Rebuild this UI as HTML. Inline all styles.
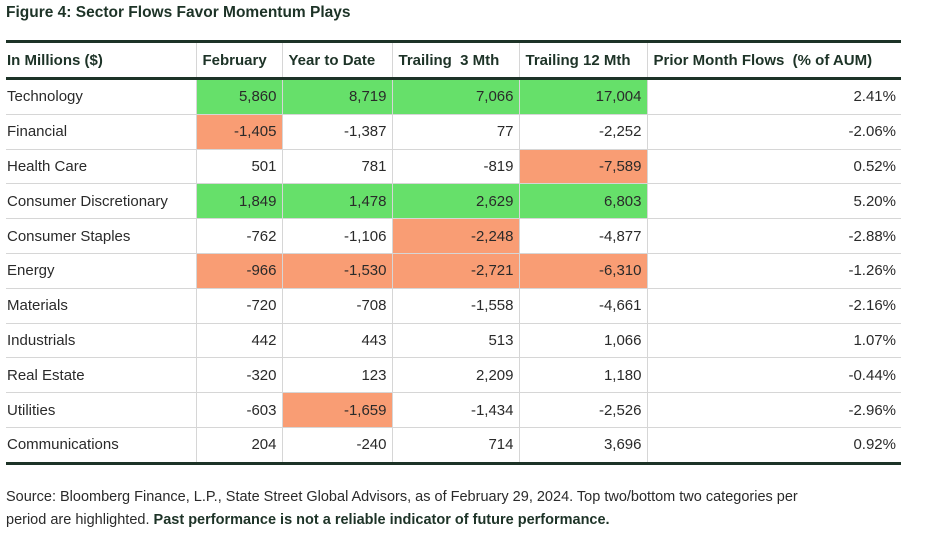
<!DOCTYPE html>
<html><head><style>
body{margin:0;width:937px;height:534px;background:#fff;font-family:"Liberation Sans",sans-serif;color:#2a2a2a;position:relative;overflow:hidden}
.t{position:absolute;left:6px;top:4px;font-weight:bold;font-size:15.5px;color:#1d3327}
table{position:absolute;left:6px;top:40px;width:895px;border-collapse:collapse;font-size:15px;table-layout:fixed}
table{border-top:3px solid #1d3327;border-bottom:3px solid #1d3327}
th{font-weight:bold;text-align:left;height:34px;padding:0 6px;color:#1d3327;border-bottom:3px solid #1d3327;border-left:1px solid #d6d6d6;white-space:nowrap;font-size:15px}
th:first-child,td:first-child{border-left:none;padding-left:1px}
td{height:33.8px;padding:0 5px;text-align:right;border-left:1px solid #d6d6d6;border-top:1px solid #d6d6d6;white-space:nowrap}
td:first-child{text-align:left}
tr:nth-child(2) td{border-top:none}
.g{background:#66e06a}.o{background:#f99d74}
.f{position:absolute;left:6px;top:486px;font-size:14.5px;line-height:23px;width:900px;color:#2a2a2a}
</style></head><body>
<div class="t">Figure 4: Sector Flows Favor Momentum Plays</div>
<table>
<colgroup><col style="width:190px"><col style="width:86px"><col style="width:110px"><col style="width:127px"><col style="width:128px"><col style="width:254px"></colgroup>
<tr><th>In Millions ($)</th><th>February</th><th>Year to Date</th><th>Trailing &nbsp;3 Mth</th><th>Trailing 12 Mth</th><th>Prior Month Flows &nbsp;(% of AUM)</th></tr>
<tr><td>Technology</td><td class="g">5,860</td><td class="g">8,719</td><td class="g">7,066</td><td class="g">17,004</td><td>2.41%</td></tr>
<tr><td>Financial</td><td class="o">-1,405</td><td>-1,387</td><td>77</td><td>-2,252</td><td>-2.06%</td></tr>
<tr><td>Health Care</td><td>501</td><td>781</td><td>-819</td><td class="o">-7,589</td><td>0.52%</td></tr>
<tr><td>Consumer Discretionary</td><td class="g">1,849</td><td class="g">1,478</td><td class="g">2,629</td><td class="g">6,803</td><td>5.20%</td></tr>
<tr><td>Consumer Staples</td><td>-762</td><td>-1,106</td><td class="o">-2,248</td><td>-4,877</td><td>-2.88%</td></tr>
<tr><td>Energy</td><td class="o">-966</td><td class="o">-1,530</td><td class="o">-2,721</td><td class="o">-6,310</td><td>-1.26%</td></tr>
<tr><td>Materials</td><td>-720</td><td>-708</td><td>-1,558</td><td>-4,661</td><td>-2.16%</td></tr>
<tr><td>Industrials</td><td>442</td><td>443</td><td>513</td><td>1,066</td><td>1.07%</td></tr>
<tr><td>Real Estate</td><td>-320</td><td>123</td><td>2,209</td><td>1,180</td><td>-0.44%</td></tr>
<tr><td>Utilities</td><td>-603</td><td class="o">-1,659</td><td>-1,434</td><td>-2,526</td><td>-2.96%</td></tr>
<tr><td>Communications</td><td>204</td><td>-240</td><td>714</td><td>3,696</td><td>0.92%</td></tr>
</table>
<div class="f">Source: Bloomberg Finance, L.P., State Street Global Advisors, as of February 29, 2024. Top two/bottom two categories per<br>period are highlighted. <b style="color:#1d3327">Past performance is not a reliable indicator of future performance.</b></div>
</body></html>
